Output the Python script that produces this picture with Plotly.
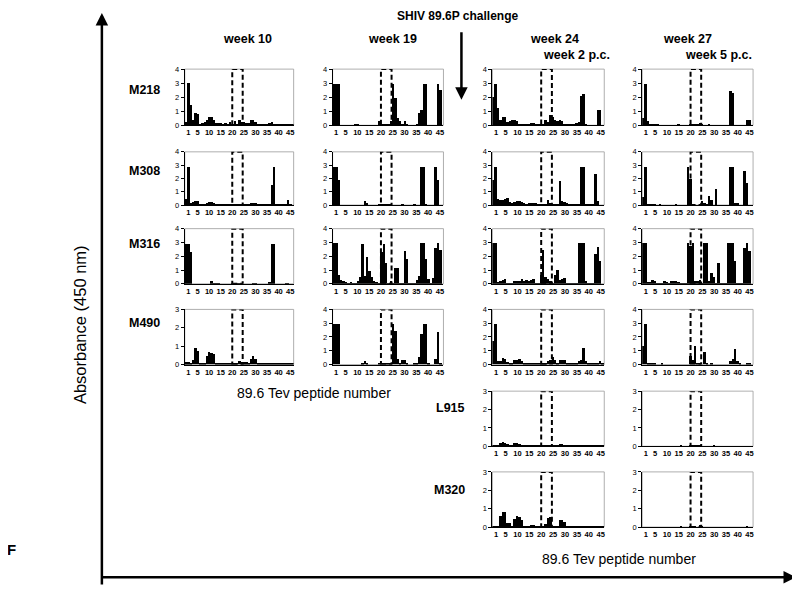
import plotly.graph_objects as go

W, H = 800, 592
OFF = 8  # page body margin of the browser

# ---------------- data ----------------
PEPTIDES = list(range(47))
TICK_VALS = [1, 5, 10, 15, 20, 25, 30, 35, 40, 45]
TICK_TEXT = [str(v) for v in TICK_VALS]
WEEKS = ["week 10", "week 19", "week 24", "week 27"]
PC_LABELS = ["", "", "week 2 p.c.", "week 5 p.c."]
ANIMALS = ["M218", "M308", "M316", "M490", "L915", "M320"]

w10_M218 = [0.2, 3.0, 1.4, 0.4, 0.85, 0.8, 0.1, 0.15, 0.2, 0.35,
            0.6, 0.55, 0.35, 0.15, 0.15, 0.15, 0.1, 0.15, 0.1, 0.2,
            0.1, 0.3, 0.1, 0.35, 0.2, 0.25, 0.15, 0.15, 0.4, 0.35,
            0.2, 0.1, 0.1, 0.1, 0.1, 0.1, 0.15, 0.25, 0.1, 0.1,
            0.1, 0.1, 0.1, 0.1, 0.1, 0.05, 0.05]
w19_M218 = [2.9, 2.9, 2.9, 0, 0, 0, 0, 0, 0, 0.03,
            0.03, 0, 0, 0, 0, 0, 0, 0, 0, 0.3,
            0.1, 0.05, 0.05, 0.05, 0.3, 2.9, 1.9, 0.5, 0.3, 0.05,
            0.3, 0.1, 0, 0, 0, 0.05, 0.9, 1.1, 2.9, 2.9,
            0, 0, 0, 0, 2.9, 2.5, 0]
w24_M218 = [2.0, 2.9, 1.25, 0.4, 0.6, 0.6, 0.2, 0.3, 0.4, 0.35,
            0.3, 0.1, 0.1, 0.1, 0.1, 0.1, 0.15, 0.15, 0.1, 0.1,
            0.05, 0.05, 0.35, 0.2, 0.75, 0.55, 0.35, 0.3, 0.4, 0.3,
            0.1, 0.05, 0.05, 0.05, 0.1, 0.15, 0.2, 2.1, 2.25, 0.05,
            0, 0, 0, 0, 1.1, 1.05, 0]
w27_M218 = [0.5, 2.9, 0.3, 0.1, 0.1, 0.1, 0.02, 0, 0, 0,
            0, 0, 0, 0, 0, 0.1, 0, 0, 0, 0,
            0.03, 0.03, 0.03, 0.03, 0.15, 0.1, 0, 0, 0.05, 0,
            0, 0, 0, 0, 0, 0, 0, 2.4, 2.3, 0,
            0, 0, 0, 0, 0.4, 0.4, 0]

w10_M308 = [0.5, 2.9, 0.2, 0.25, 0.3, 0.35, 0.1, 0.05, 0.05, 0.2,
            0.25, 0.25, 0.15, 0.05, 0.05, 0.05, 0.05, 0.05, 0.05, 0.05,
            0.05, 0.05, 0.1, 0.05, 0.1, 0.05, 0.05, 0.05, 0.15, 0.2,
            0.15, 0.02, 0.02, 0.02, 0.02, 0.02, 0.02, 1.5, 2.9, 0.02,
            0.02, 0.02, 0.02, 0.02, 0.4, 0.05, 0]
w19_M308 = [2.85, 2.85, 1.9, 0, 0, 0, 0, 0, 0, 0,
            0, 0, 0, 0.3, 0.2, 0, 0, 0, 0, 0.1,
            0.05, 0.05, 0.05, 0.1, 0.05, 0, 0, 0, 0, 0.1,
            0, 0, 0, 0, 0.05, 0, 0, 2.9, 2.85, 0.05,
            0, 0, 0, 2.9, 1.9, 0, 0]
w24_M308 = [1.9, 2.9, 0.45, 0.4, 0.4, 0.45, 0.55, 0.25, 0.15, 0.25,
            0.3, 0.3, 0.25, 0.15, 0.1, 0.2, 0.15, 0.15, 0.15, 0.05,
            0.05, 0.05, 0.1, 0.4, 0.15, 0.1, 0.05, 0.05, 1.8, 0.3,
            0.25, 0.15, 0.05, 0.05, 0.1, 0.1, 0.05, 2.9, 2.9, 0.05,
            0.02, 0.02, 0.02, 2.35, 0.3, 0, 0]
w27_M308 = [0.6, 2.9, 0.05, 0.05, 0.02, 0.02, 0, 0.1, 0, 0,
            0, 0, 0, 0, 0.1, 0, 0, 0, 0, 2.9,
            2.0, 0.05, 0, 0, 0.05, 0.3, 0.2, 0.05, 0.7, 0.4,
            0, 1.2, 0, 0, 0, 0, 0, 2.9, 2.9, 0.15,
            0.15, 0, 0, 2.6, 1.65, 0, 0]

w10_M316 = [2.9, 2.9, 2.3, 0.01, 0.01, 0.01, 0.01, 0.01, 0.01, 0.01,
            0.01, 0.2, 0.02, 0.05, 0.05, 0, 0, 0, 0, 0,
            0.05, 0.05, 0.05, 0.05, 0.05, 0, 0, 0, 0, 0.03,
            0.03, 0, 0, 0, 0, 0, 0.15, 2.9, 2.9, 0,
            0, 0, 0, 0.05, 0.05, 0, 0]
w19_M316 = [2.95, 2.95, 0.7, 0.3, 0.2, 0.15, 0.1, 0.15, 0.1, 0.1,
            0.2, 0.55, 2.9, 0.6, 1.95, 0.95, 0.5, 0.2, 0.15, 0.1,
            2.3, 2.9, 1.5, 0.05, 0.2, 0.05, 1.15, 1.15, 0.1, 0.1,
            2.4, 1.85, 0.1, 0.05, 0.1, 0.3, 0.6, 2.95, 2.95, 1.85,
            0.4, 0.1, 0.45, 2.6, 2.95, 2.45, 0]
w24_M316 = [2.95, 2.95, 0.15, 0.2, 0.3, 0.35, 0.1, 0.05, 0.05, 0.2,
            0.2, 0.2, 0.35, 0.2, 0.3, 0.25, 0.3, 0.35, 0.1, 0.1,
            0.7, 2.45, 0.55, 0.35, 0.2, 0.1, 0.65, 1.05, 0.3, 0.4,
            0.45, 0.1, 0.05, 0.05, 0.1, 0.1, 2.95, 2.95, 2.95, 0.2,
            0.05, 0.05, 0.1, 2.2, 2.7, 1.7, 0]
w27_M316 = [2.95, 2.95, 0.15, 0.15, 0.3, 0.25, 0.1, 0.05, 0.02, 0.2,
            0.15, 0.1, 0.25, 0.2, 0.2, 0.15, 0.1, 0.05, 0.02, 2.95,
            2.75, 2.95, 0.2, 0.25, 0.3, 0.05, 2.95, 2.95, 0.2, 0.8,
            0.55, 0.1, 1.5, 0.1, 0.1, 0.1, 2.95, 2.95, 2.95, 1.7,
            0.1, 0.1, 0.1, 2.6, 2.95, 2.4, 0]

w10_M490 = [0.1, 0.1, 0.05, 0.2, 0.9, 0.7, 0.05, 0.05, 0.05, 0.45,
            0.65, 0.6, 0.55, 0.05, 0.05, 0.02, 0.02, 0.02, 0.02, 0.02,
            0.02, 0.02, 0.05, 0.15, 0.1, 0.1, 0.1, 0.05, 0.3, 0.45,
            0.3, 0.05, 0.02, 0.02, 0.02, 0.02, 0.03, 0.02, 0.02, 0.02,
            0.02, 0.02, 0.02, 0.02, 0.02, 0.02, 0.02]
w19_M490 = [2.9, 2.9, 2.9, 0, 0, 0, 0, 0, 0, 0,
            0, 0, 0.05, 0.25, 0.02, 0, 0, 0, 0, 0.02,
            0.02, 0.02, 0.02, 0.02, 0.02, 2.9, 2.4, 0.35, 0.1, 0.3,
            0.3, 0.1, 0, 0, 0.05, 0.1, 0.55, 2.2, 2.9, 2.9,
            0.1, 0, 0, 0.35, 2.35, 0.05, 0]
w24_M490 = [1.65, 2.9, 0.2, 0.2, 0.45, 0.4, 0.15, 0.1, 0.1, 0.3,
            0.3, 0.35, 0.25, 0.05, 0.05, 0.1, 0.1, 0.05, 0.05, 0.02,
            0.02, 0.05, 0.1, 0.25, 0.3, 0.55, 0.3, 0.05, 0.3, 0.3,
            0.3, 0.05, 0.02, 0.02, 0.02, 0.02, 0.2, 0.3, 1.2, 0.2,
            0.05, 0.02, 0.02, 0.02, 0.1, 0.25, 0.05]
w27_M490 = [1.3, 2.9, 0.05, 0.05, 0.05, 0.05, 0, 0, 0.02, 0,
            0, 0, 0, 0, 0, 0, 0, 0, 0, 0,
            0.6, 0.3, 1.35, 0.05, 0.05, 0, 0.9, 0.05, 0, 0.1,
            0, 0, 0, 0, 0, 0, 0, 0.2, 0.4, 1.1,
            0.25, 0.05, 0, 0, 0.03, 0.03, 0]

w24_L915 = [0.02, 0.03, 0.03, 0.15, 0.2, 0.15, 0.1, 0.05, 0.02, 0.15,
            0.15, 0.1, 0.05, 0.02, 0.03, 0.03, 0.03, 0.03, 0.03, 0.02,
            0.02, 0.05, 0.05, 0.05, 0.02, 0.03, 0.02, 0.02, 0.1, 0.1,
            0.05, 0.02, 0.02, 0.02, 0.02, 0.02, 0.02, 0.02, 0.02, 0.02,
            0.02, 0.02, 0.02, 0.02, 0.03, 0.03, 0.02]
w27_L915 = [0, 0, 0, 0, 0, 0, 0, 0, 0, 0,
            0, 0, 0, 0, 0, 0, 0.05, 0, 0, 0,
            0.02, 0.02, 0.02, 0.02, 0.02, 0, 0, 0, 0, 0,
            0.03, 0, 0, 0, 0, 0, 0, 0, 0, 0,
            0, 0, 0, 0, 0, 0, 0]

w24_M320 = [0.05, 0.05, 0.05, 0.6, 0.85, 0.85, 0.25, 0.25, 0.05, 0.45,
            0.6, 0.55, 0.4, 0.05, 0.05, 0.05, 0.1, 0.12, 0.05, 0.02,
            0.02, 0.05, 0.15, 0.5, 0.55, 0.05, 0.02, 0.02, 0.4, 0.4,
            0.3, 0.05, 0.05, 0.03, 0.03, 0.03, 0.03, 0.03, 0.03, 0.03,
            0.03, 0.03, 0.03, 0.03, 0.03, 0.03, 0.03]
w27_M320 = [0, 0, 0, 0, 0, 0, 0, 0, 0, 0,
            0, 0, 0, 0, 0, 0, 0.03, 0, 0, 0,
            0.05, 0.05, 0.02, 0, 0.1, 0.08, 0, 0, 0, 0,
            0, 0, 0, 0, 0, 0, 0, 0, 0, 0,
            0, 0, 0, 0, 0.05, 0, 0]

# (row, col, values, y max)
PANELS = [
    (0, 0, w10_M218, 4), (0, 1, w19_M218, 4), (0, 2, w24_M218, 4), (0, 3, w27_M218, 4),
    (1, 0, w10_M308, 4), (1, 1, w19_M308, 4), (1, 2, w24_M308, 4), (1, 3, w27_M308, 4),
    (2, 0, w10_M316, 4), (2, 1, w19_M316, 4), (2, 2, w24_M316, 4), (2, 3, w27_M316, 4),
    (3, 0, w10_M490, 3), (3, 1, w19_M490, 4), (3, 2, w24_M490, 4), (3, 3, w27_M490, 4),
    (4, 2, w24_L915, 3), (4, 3, w27_L915, 3),
    (5, 2, w24_M320, 3), (5, 3, w27_M320, 3),
]
BOX_X0, BOX_X1 = 20.0, 24.5

# ---------------- layout (screen pixels) ----------------
COL_PX = [(185, 294), (333, 444), (493, 605), (643, 754)]
ROW_PX = [(66, 123), (150, 204), (228, 284), (310, 366), (393, 449), (475, 531)]


def px(x):
    return (x - OFF) / W


def py(y):
    return 1 - (y - OFF) / H


TICKFONT_X = dict(family="Liberation Sans", size=7.5, color="black", weight="bold")
TICKFONT_Y = dict(family="Liberation Sans", size=7.5, color="black")

fig = go.Figure()
layout = {}
shapes = []
for i, (r, c, vals, ymax) in enumerate(PANELS):
    n = i + 1
    xid = "x" if n == 1 else f"x{n}"
    yid = "y" if n == 1 else f"y{n}"
    xkey = "xaxis" if n == 1 else f"xaxis{n}"
    ykey = "yaxis" if n == 1 else f"yaxis{n}"
    x0, x1 = COL_PX[c]
    y0, y1 = ROW_PX[r]
    fig.add_trace(go.Bar(x=PEPTIDES, y=vals, xaxis=xid, yaxis=yid, width=1,
                         marker=dict(color="black", line=dict(width=0)),
                         showlegend=False, hoverinfo="skip"))
    layout[xkey] = dict(domain=[px(x0), px(x1)], anchor=yid, range=[-0.5, 46.5],
                        tickmode="array", tickvals=TICK_VALS, ticktext=TICK_TEXT,
                        tickangle=0, ticks="", showgrid=False, zeroline=False,
                        showline=True, linecolor="black", linewidth=1,
                        tickfont=TICKFONT_X)
    layout[ykey] = dict(domain=[py(y1), py(y0)], anchor=xid, range=[0, ymax],
                        dtick=1, tick0=0, ticks="outside", ticklen=3, tickwidth=1,
                        tickcolor="black", showgrid=False, zeroline=False,
                        showline=True, linecolor="black", linewidth=1,
                        tickfont=TICKFONT_Y)
    shapes.append(dict(type="rect", xref=f"{xid} domain", yref=f"{yid} domain",
                       x0=0, x1=1, y0=0, y1=1, layer="below",
                       line=dict(color="#9a9a9a", width=0.8)))
    shapes.append(dict(type="rect", xref=xid, yref=yid, x0=BOX_X0, x1=BOX_X1,
                       y0=0, y1=ymax, line=dict(color="black", width=2, dash="5px,3px")))

annotations = []
BOLD = dict(family="Liberation Sans", size=12.5, color="black", weight="bold")


def label(x, y, text, font, xanchor="center", **kw):
    annotations.append(dict(x=px(x), y=py(y), xref="paper", yref="paper", text=text,
                            showarrow=False, font=font, xanchor=xanchor,
                            yanchor="middle", **kw))


# column headers
HEAD_X = [248, 393, 555, 688]
for cx, wk in zip(HEAD_X, WEEKS):
    label(cx, 35, wk, BOLD)
PC_X = [0, 0, 577, 719]
for cx, lab in zip(PC_X, PC_LABELS):
    if lab:
        label(cx, 52, lab, BOLD)

# row labels
ROW_LABEL_POS = [(162, 87), (162, 169), (162, 244), (162, 324), (468, 410), (468, 493)]
for (lx, ly), lab in zip(ROW_LABEL_POS, ANIMALS):
    label(lx, ly, lab, BOLD, xanchor="right")

# challenge label + arrow
label(458, 12, "SHIV 89.6P challenge",
      dict(family="Liberation Sans", size=12, color="black", weight="bold"))
annotations.append(dict(x=px(462), y=py(97), xref="paper", yref="paper", text="",
                        showarrow=True, ax=0, ay=-69, arrowhead=2, arrowsize=1,
                        arrowwidth=2.5, arrowcolor="black"))

# x-axis titles
REG = dict(family="Liberation Sans", size=14, color="black")
label(314, 395, "89.6 Tev peptide number", REG)
label(620, 563, "89.6 Tev peptide number", REG)

# y title
label(80, 325, "Absorbance (450 nm)",
      dict(family="Liberation Sans", size=16.5, color="black"), textangle=-90)
# panel letter
label(12, 554, "F", dict(family="Liberation Sans", size=15, color="black", weight="bold"))

# big axes arrows
annotations.append(dict(x=px(102), y=py(9), xref="paper", yref="paper", text="",
                        showarrow=True, ax=0, ay=573, arrowhead=2, arrowsize=1,
                        arrowwidth=2.5, arrowcolor="black"))
annotations.append(dict(x=px(797), y=py(582), xref="paper", yref="paper", text="",
                        showarrow=True, ax=-695, ay=0, arrowhead=2, arrowsize=1,
                        arrowwidth=2.5, arrowcolor="black"))

fig.update_layout(**layout)
fig.update_layout(width=W, height=H, margin=dict(l=0, r=0, t=0, b=0),
                  paper_bgcolor="white", plot_bgcolor="white", bargap=0,
                  shapes=shapes, annotations=annotations,
                  font=dict(family="Liberation Sans", color="black"))

fig.write_html("out.html")
